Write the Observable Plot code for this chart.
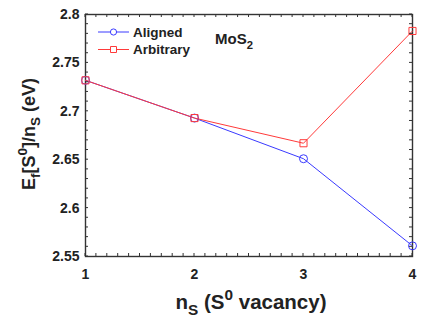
<!DOCTYPE html>
<html><head>
<meta charset="utf-8">
<script src="https://cdn.jsdelivr.net/npm/d3@7"></script>
<script src="https://cdn.jsdelivr.net/npm/@observablehq/plot@0.6"></script>
<style>
body{margin:0;background:#fff}
#chart{position:relative;width:424px;height:326px}
</style>
</head><body><div id="chart"></div>
<script>
const nS = [1, 2, 3, 4];
const aligned = [2.732, 2.693, 2.651, 2.561];
const arbitrary = [2.732, 2.693, 2.667, 2.783];
const seriesNames = ["Aligned", "Arbitrary"];
const seriesColors = ["#3a3aff", "#ff3a3a"];
const seriesSymbols = ["circle", "square"];
const xTicks = [1, 2, 3, 4];
const yTicks = [2.55, 2.6, 2.65, 2.7, 2.75, 2.8];
const xMinor = d3.range(10, 41).map(d => d / 10);
const yMinor = d3.range(255, 281).map(d => d / 100);

const data = [
  ...nS.map((n, i) => ({n, v: aligned[i], s: seriesNames[0]})),
  ...nS.map((n, i) => ({n, v: arbitrary[i], s: seriesNames[1]}))
];

const font = "'Liberation Sans', Arial, sans-serif";
const plot = Plot.plot({
  width: 424, height: 326,
  marginLeft: 85, marginRight: 12, marginTop: 14, marginBottom: 70,
  style: {fontFamily: font, fontWeight: "bold", fontSize: "14px", color: "#222", background: "#fff"},
  x: {domain: [1, 4]},
  y: {domain: [2.55, 2.8]},
  color: {domain: seriesNames, range: seriesColors},
  symbol: {domain: seriesNames, range: seriesSymbols},
  marks: [
    Plot.axisX(xTicks, {anchor: "bottom", tickSize: 0, tickPadding: 13, label: null, fontSize: 14, fill: "#222"}),
    Plot.axisY(yTicks, {anchor: "left", tickSize: 0, tickPadding: 6, label: null, fontSize: 14, fill: "#222", tickFormat: d => String(d)}),
    Plot.frame({stroke: "#333", strokeWidth: 1.4}),
    Plot.line(data, {x: "n", y: "v", z: "s", stroke: "s", strokeWidth: 1}),
    Plot.dot(data, {x: "n", y: "v", stroke: "s", symbol: "s", r: 4, fill: "none", strokeWidth: 1})
  ]
});
document.getElementById("chart").appendChild(plot);

const svg = d3.select(plot);
const sx = plot.scale("x"), sy = plot.scale("y");
const [x0, x1] = sx.range, [y0, y1] = sy.range; // y0 bottom, y1 top
// inward minor ticks on all four sides
const tk = svg.append("g").attr("stroke", "#333").attr("stroke-width", 1);
xMinor.forEach(v => {
  const x = sx.apply(v);
  tk.append("line").attr("x1", x).attr("x2", x).attr("y1", y0).attr("y2", y0 - 3);
  tk.append("line").attr("x1", x).attr("x2", x).attr("y1", y1).attr("y2", y1 + 3);
});
yMinor.forEach(v => {
  const y = sy.apply(v);
  tk.append("line").attr("y1", y).attr("y2", y).attr("x1", x0).attr("x2", x0 + 3);
  tk.append("line").attr("y1", y).attr("y2", y).attr("x1", x1).attr("x2", x1 - 3);
});

function rich(g, parts, size) {
  const t = g.append("text").attr("font-family", font).attr("font-weight", "bold")
    .attr("font-size", size).attr("fill", "#222");
  parts.forEach(([txt, kind]) => {
    const sp = t.append("tspan").text(txt);
    if (kind === "sub") sp.attr("font-size", size * 0.75).attr("dy", size * 0.3);
    else if (kind === "sup") sp.attr("font-size", size * 0.75).attr("dy", -size * 0.45);
    else if (kind === "down") sp.attr("dy", -size * 0.3);
    else if (kind === "up") sp.attr("dy", size * 0.45);
  });
  return t;
}
// y label
rich(svg.append("g").attr("transform", "translate(35,134) rotate(-90)"),
  [["E", ""], ["f", "sub"], ["[S", "down"], ["0", "sup"], ["]/n", "up"], ["S", "sub"], [" (eV)", "down"]], 18)
  .attr("text-anchor", "middle");
// x label
rich(svg.append("g").attr("transform", "translate(251,309)"),
  [["n", ""], ["S", "sub"], [" (S", "down"], ["0", "sup"], [" vacancy)", "up"]], 20.5)
  .attr("text-anchor", "middle");
// MoS2 annotation
rich(svg.append("g").attr("transform", "translate(215,44)"), [["MoS", ""], ["2", "sub"]], 15)
  .attr("text-anchor", "start");

// legend
const lg = svg.append("g").attr("transform", "translate(98,32)");
seriesNames.forEach((name, i) => {
  const row = lg.append("g").attr("transform", `translate(0,${i * 17.5})`);
  row.append("line").attr("x1", 0).attr("x2", 31).attr("stroke", seriesColors[i]).attr("stroke-width", 1);
  row.append("path").attr("transform", "translate(15.5,0)")
    .attr("d", d3.symbol(i === 0 ? d3.symbolCircle : d3.symbolSquare, i === 0 ? 30 : 36)())
    .attr("fill", "white").attr("stroke", seriesColors[i]);
  row.append("text").attr("x", 35).attr("dy", "0.35em").attr("text-anchor", "start")
    .attr("font-family", font).attr("font-weight", "bold").attr("font-size", 13.5)
    .attr("fill", "#222").text(name);
});
</script>
</body></html>
